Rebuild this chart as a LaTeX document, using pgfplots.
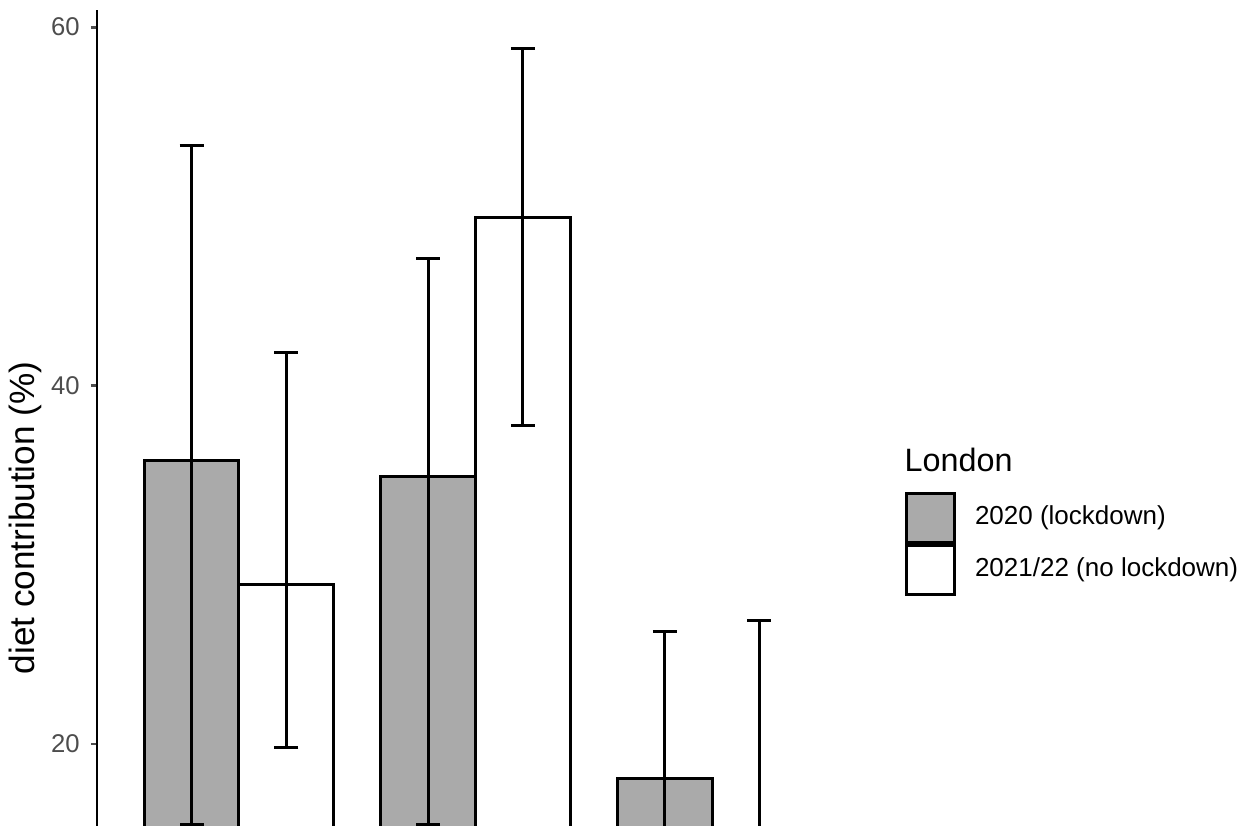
\documentclass[border=0pt]{standalone}
\usepackage{pgfplots}
\pgfplotsset{compat=1.18}
\usepackage{fontspec}
\setmainfont{Liberation Sans}
\definecolor{barGray}{HTML}{AAAAAA}
\definecolor{tickGray}{HTML}{4D4D4D}
\begin{document}
\begin{tikzpicture}
\path[use as bounding box] (-0.97cm,0cm) rectangle (11.53cm,8.25cm);
\begin{axis}[
  at={(0,-0.104cm)}, anchor=south west,
  scale only axis,
  width=7.57cm, height=8.254cm,
  xmin=0.4, xmax=3.6,
  ymin=14.9, ymax=60.95,
  axis y line*=left,
  hide x axis,
  y axis line style={line width=0.85pt, -},
  ytick={20,40,60},
  tick align=outside,
  major tick length=0.6mm,
  every tick/.style={line width=0.85pt, tickGray},
  yticklabel style={font=\fontsize{7.3}{8}\selectfont, text=tickGray, xshift=0.1mm},
  /pgf/number format/assume math mode=true,
  ylabel={diet contribution (\%)},
  ylabel style={font=\fontsize{9.35}{11}\selectfont},
  every axis y label/.style={at={(axis description cs:-0.0951,0.3845)}, rotate=90, anchor=center},
  ybar, bar width=0.4, bar shift=0pt,
  legend style={at={(axis description cs:1.0674,0.416)}, anchor=north west,
    draw=none, fill=none, font=\fontsize{7.4}{9}\selectfont,
    row sep=0pt, inner sep=0pt, outer sep=0pt,
    nodes={inner sep=0pt, outer sep=0pt}},
  legend cell align=left,
  legend image code/.code={\draw[#1, line width=0.85pt] (0cm,-0.245cm) rectangle (0.48cm,0.245cm);},
  legend style={column sep=0.19cm},
]
\addplot[fill=barGray, draw=black, line width=0.85pt,
  error bars/.cd, y dir=both, y explicit, error mark=|,
  error bar style={line width=0.85pt, black},
  error mark options={line width=0.85pt, mark size=1.2mm, black}]
  table[x=x, y=y, y error plus=ep, y error minus=em] {
x y ep em
0.8 35.8 17.6 20.3
1.8 34.9 12.2 19.4
2.8 18.05 8.2 8.0
};
\addlegendentry{2020 (lockdown)}
\addplot[fill=white, draw=black, line width=0.85pt,
  error bars/.cd, y dir=both, y explicit, error mark=|,
  error bar style={line width=0.85pt, black},
  error mark options={line width=0.85pt, mark size=1.2mm, black}]
  table[x=x, y=y, y error plus=ep, y error minus=em] {
x y ep em
1.2 28.9 12.95 9.1
2.2 49.4 9.4 11.65
3.2 12.0 14.9 5.0
};
\addlegendentry{2021/22 (no lockdown)}
\end{axis}
\node[anchor=base west, font=\fontsize{9.2}{11}\selectfont, inner sep=0pt] at (8.07cm,3.54cm) {London};
\end{tikzpicture}
\end{document}
